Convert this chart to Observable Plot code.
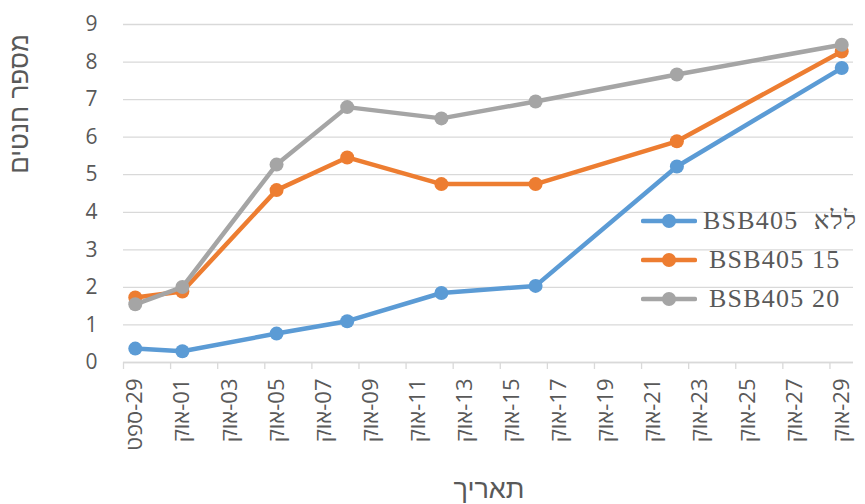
<!DOCTYPE html>
<html><head><meta charset="utf-8">
<script src="https://cdn.jsdelivr.net/npm/d3@7"></script>
<script src="https://cdn.jsdelivr.net/npm/@observablehq/plot@0.6"></script>
<style>
@font-face{font-family:"HebSans";src:local("Liberation Sans");unicode-range:U+0590-05FF;}
body{margin:0;background:#fff;}
#wrap{position:relative;width:865px;height:504px;overflow:hidden;}
#ytitle{position:absolute;left:19px;top:104px;transform:translate(-50%,-50%) rotate(-90deg);white-space:nowrap;font-family:"Liberation Sans",sans-serif;font-size:26px;color:#595959;}
#xtitle{position:absolute;left:489px;top:489px;transform:translate(-50%,-50%);white-space:nowrap;font-family:"Liberation Sans",sans-serif;font-size:27px;color:#595959;}
.leg{position:absolute;display:flex;align-items:center;white-space:pre;font-family:"Liberation Serif","HebSans",serif;font-size:26px;color:#595959;letter-spacing:1.2px;}
.leg svg{display:block;}
</style></head><body>
<div id="wrap"></div>
<script>
// ---- data ----
const dates = ["2019-09-29","2019-10-01","2019-10-05","2019-10-08","2019-10-12","2019-10-16","2019-10-22","2019-10-29"];
const seriesNames = ["ללא  BSB405","BSB405 15","BSB405 20"];
const valuesNone = [0.37,0.30,0.77,1.10,1.85,2.04,5.22,7.84];
const values15   = [1.73,1.89,4.59,5.46,4.75,4.75,5.89,8.28];
const values20   = [1.55,2.01,5.27,6.80,6.50,6.95,7.67,8.46];
const seriesColors = ["#5B9BD5","#ED7D31","#A5A5A5"];
const yTicks = [0,1,2,3,4,5,6,7,8,9];
const xTickDates = ["2019-09-29","2019-10-01","2019-10-03","2019-10-05","2019-10-07","2019-10-09","2019-10-11","2019-10-13","2019-10-15","2019-10-17","2019-10-19","2019-10-21","2019-10-23","2019-10-25","2019-10-27","2019-10-29"];
const monthNames = ["ינו","פבר","מרץ","אפר","מאי","יונ","יול","אוג","ספט","אוק","נוב","דצמ"];
const yTitle = "מספר חנטים";
const xTitle = "תאריך";
const xDomain = ["2019-09-29","2019-10-30"];

// ---- build ----
const dayStart = s => new Date(s + "T00:00:00Z");
const dayMid = s => new Date(s + "T12:00:00Z");
const allValues = [valuesNone, values15, values20];
const rows = seriesNames.flatMap((name, si) => dates.map((d, i) => ({date: dayMid(d), value: allValues[si][i], series: name})));
const fmt = d => "\u202B" + String(d.getUTCDate()).padStart(2, "0") + "-" + monthNames[d.getUTCMonth()] + "\u202C";

const seriesMarks = seriesNames.flatMap((name, si) => [
  Plot.line(rows.filter(r => r.series === name), {x: "date", y: "value", stroke: seriesColors[si], strokeWidth: 4.5, strokeLinejoin: "round", strokeLinecap: "round"}),
  Plot.dot(rows.filter(r => r.series === name), {x: "date", y: "value", fill: seriesColors[si], r: 7})
]);

const chart = Plot.plot({
  width: 865, height: 504,
  marginLeft: 123, marginRight: 12, marginTop: 24, marginBottom: 142,
  style: {fontFamily: "'Open Sans','HebSans','Liberation Sans',sans-serif", fontSize: "21px", color: "#595959", background: "transparent"},
  x: {type: "utc", domain: xDomain.map(dayStart)},
  y: {domain: [0, 9]},
  marks: [
    Plot.gridY(yTicks, {stroke: "#d9d9d9", strokeOpacity: 1, strokeWidth: 1.3}),
    Plot.axisY(yTicks, {tickSize: 0, tickPadding: 26, label: null, tickFormat: d => String(d), fontSize: 21}),
    Plot.axisX(xTickDates.map(dayStart), {tickSize: 7, stroke: "#d9d9d9", strokeOpacity: 1, strokeWidth: 1.3, tickFormat: () => "", label: null}),
    Plot.axisX(xTickDates.map(dayMid), {tickSize: 0, tickRotate: -90, tickPadding: 16, tickFormat: fmt, label: null, fontSize: 22}),
    Plot.ruleY([0], {stroke: "#d9d9d9", strokeWidth: 1.3}),
    ...seriesMarks
  ]
});

const wrap = document.getElementById("wrap");
wrap.appendChild(chart);

const yt = document.createElement("div"); yt.id = "ytitle"; yt.textContent = yTitle; wrap.appendChild(yt);
const xt = document.createElement("div"); xt.id = "xtitle"; xt.textContent = xTitle; wrap.appendChild(xt);

// legend
const legTops = [221, 260, 299];
const legTextGap = [6, 12, 12];
seriesNames.forEach((name, si) => {
  const row = document.createElement("div");
  row.className = "leg";
  row.style.left = "641px";
  row.style.top = (legTops[si] - 16) + "px";
  row.style.height = "32px";
  const ns = "http://www.w3.org/2000/svg";
  const svg = document.createElementNS(ns, "svg");
  svg.setAttribute("width", 56); svg.setAttribute("height", 20);
  const ln = document.createElementNS(ns, "line");
  ln.setAttribute("x1", 2); ln.setAttribute("x2", 54); ln.setAttribute("y1", 10); ln.setAttribute("y2", 10);
  ln.setAttribute("stroke", seriesColors[si]); ln.setAttribute("stroke-width", 4.5); ln.setAttribute("stroke-linecap", "round");
  const c = document.createElementNS(ns, "circle");
  c.setAttribute("cx", 28); c.setAttribute("cy", 10); c.setAttribute("r", 7); c.setAttribute("fill", seriesColors[si]);
  svg.appendChild(ln); svg.appendChild(c);
  const span = document.createElement("span");
  span.textContent = name;
  span.dir = "rtl";
  span.style.marginLeft = legTextGap[si] + "px";
  row.appendChild(svg); row.appendChild(span);
  wrap.appendChild(row);
});
</script>
</body></html>
